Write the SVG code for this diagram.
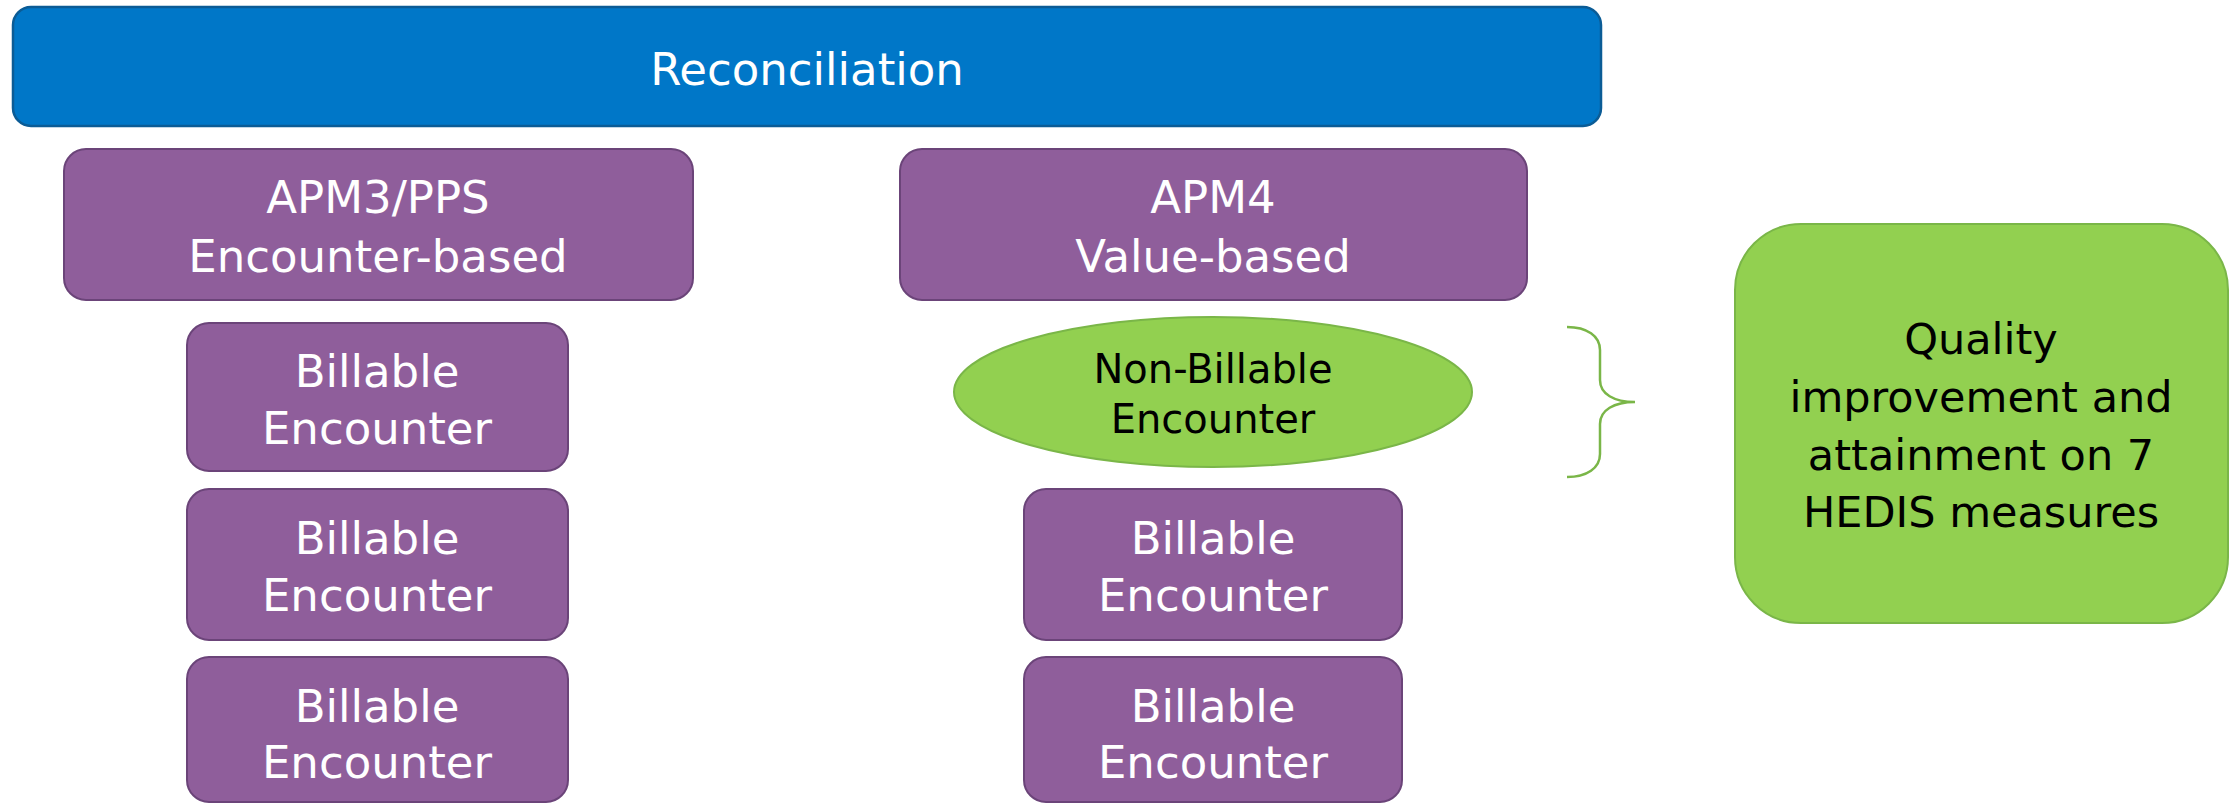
<svg xmlns="http://www.w3.org/2000/svg" width="2239" height="804" viewBox="0 0 2239 804">
  <style>
    .lbl { font-family: "DejaVu Sans", "Liberation Sans", sans-serif; text-anchor: middle; }
    .w { fill: #ffffff; font-size: 45px; }
    .k { fill: #000000; }
    .purple { fill: #8F5E9B; stroke: #6B4479; stroke-width: 2; }
    .blue { fill: #0077C8; stroke: #0B5C96; stroke-width: 2.5; }
    .green { fill: #92D050; stroke: #7AB648; stroke-width: 2; }
  </style>

  <g id="reconciliation">
    <rect class="blue" x="13" y="7" width="1588" height="119" rx="18"/>
    <text class="lbl w" x="807" y="85" font-size="46">Reconciliation</text>
  </g>

  <g id="apm3">
    <rect class="purple" x="64" y="149" width="629" height="151" rx="22"/>
    <text class="lbl w" x="378" y="213">APM3/PPS</text>
    <text class="lbl w" x="378" y="272">Encounter-based</text>
  </g>

  <g id="apm4">
    <rect class="purple" x="900" y="149" width="627" height="151" rx="22"/>
    <text class="lbl w" x="1213" y="213">APM4</text>
    <text class="lbl w" x="1213" y="272">Value-based</text>
  </g>

  <g id="billable-left-1">
    <rect class="purple" x="187" y="323" width="381" height="148" rx="22"/>
    <text class="lbl w" x="377" y="387">Billable</text>
    <text class="lbl w" x="377" y="444">Encounter</text>
  </g>

  <g id="billable-left-2">
    <rect class="purple" x="187" y="489" width="381" height="151" rx="22"/>
    <text class="lbl w" x="377" y="554">Billable</text>
    <text class="lbl w" x="377" y="611">Encounter</text>
  </g>

  <g id="billable-left-3">
    <rect class="purple" x="187" y="657" width="381" height="145" rx="22"/>
    <text class="lbl w" x="377" y="722">Billable</text>
    <text class="lbl w" x="377" y="778">Encounter</text>
  </g>

  <g id="non-billable">
    <ellipse class="green" cx="1213" cy="392" rx="259" ry="75"/>
    <text class="lbl k" x="1213" y="383" font-size="40">Non-Billable</text>
    <text class="lbl k" x="1213" y="433" font-size="40">Encounter</text>
  </g>

  <g id="billable-right-1">
    <rect class="purple" x="1024" y="489" width="378" height="151" rx="22"/>
    <text class="lbl w" x="1213" y="554">Billable</text>
    <text class="lbl w" x="1213" y="611">Encounter</text>
  </g>

  <g id="billable-right-2">
    <rect class="purple" x="1024" y="657" width="378" height="145" rx="22"/>
    <text class="lbl w" x="1213" y="722">Billable</text>
    <text class="lbl w" x="1213" y="778">Encounter</text>
  </g>

  <g id="quality">
    <rect class="green" x="1735" y="224" width="493" height="399" rx="66"/>
    <text class="lbl k" x="1981" y="354" font-size="43">Quality</text>
    <text class="lbl k" x="1981" y="412" font-size="43">improvement and</text>
    <text class="lbl k" x="1981" y="470" font-size="43">attainment on 7</text>
    <text class="lbl k" x="1981" y="527" font-size="43">HEDIS measures</text>
  </g>

  <g id="connectors">
    <!-- right-facing curly brace grouping the non-billable encounter -->
    <path d="M1567 327 C1587 327 1600 336 1600 350 L1600 380 C1600 394 1614 402 1635 402 C1614 402 1600 410 1600 424 L1600 454 C1600 468 1587 477 1567 477"
          fill="none" stroke="#7AB648" stroke-width="2.5"/>
  </g>
</svg>
